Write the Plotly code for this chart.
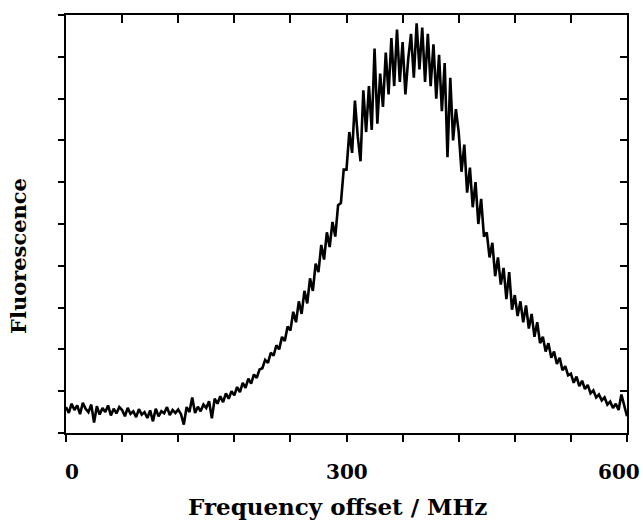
import plotly.graph_objects as go

# Frequency offset (MHz), sampled every 3 MHz
freq_mhz = list(range(0, 601, 3))

# Fluorescence (arbitrary units, axis 0-10)
fluorescence = [
    0.62, 0.48, 0.70, 0.55, 0.66, 0.45, 0.72, 0.58, 0.50, 0.68,
    0.25, 0.64, 0.44, 0.60, 0.50, 0.66, 0.42, 0.58, 0.47, 0.62,
    0.55, 0.40, 0.60, 0.46, 0.52, 0.38, 0.57, 0.44, 0.50, 0.36,
    0.54, 0.28, 0.58, 0.40, 0.52, 0.47, 0.62, 0.43, 0.55, 0.48,
    0.56, 0.45, 0.20, 0.62, 0.50, 0.85, 0.48, 0.63, 0.52, 0.68,
    0.60, 0.76, 0.35, 0.82, 0.70, 0.88, 0.74, 0.95, 0.82, 1.00,
    0.90, 1.10, 0.98, 1.20, 1.08, 1.30, 1.18, 1.40, 1.32, 1.52,
    1.55, 1.75, 1.68, 1.92, 1.85, 2.10, 2.00, 2.30, 2.20, 2.55,
    2.45, 2.90, 2.65, 3.15, 2.85, 3.40, 3.10, 3.70, 3.40, 4.05,
    3.85, 4.50, 4.15, 4.80, 4.45, 5.05, 4.70, 5.45, 5.50, 6.30,
    6.30, 7.20, 6.70, 7.95, 7.10, 6.50, 8.20, 7.20, 8.30, 7.25,
    9.20, 7.40, 8.60, 7.80, 9.10, 8.10, 9.45, 8.30, 9.65, 8.40,
    9.35, 8.10, 8.95, 9.55, 8.50, 9.80, 8.70, 9.70, 8.40, 9.55,
    8.30, 9.30, 8.00, 9.05, 7.70, 8.85, 6.60, 8.50, 7.00, 7.75,
    7.20, 6.25, 6.90, 5.75, 6.35, 5.40, 6.00, 5.00, 5.60, 4.70,
    4.80, 4.20, 4.55, 3.75, 4.20, 3.55, 3.95, 3.20, 3.85, 2.95,
    3.30, 2.80, 3.15, 2.65, 3.05, 2.50, 2.85, 2.30, 2.65, 2.15,
    2.30, 1.95, 2.15, 1.80, 1.95, 1.65, 1.80, 1.50, 1.60, 1.38,
    1.42, 1.20, 1.35, 1.12, 1.25, 1.05, 1.15, 0.95, 1.02, 0.85,
    0.92, 0.78, 0.85, 0.68, 0.75, 0.60, 0.70, 0.55, 0.92, 0.62,
    0.40,
]

x_ticks = list(range(0, 601, 60))
x_labels = ["0", "300", "600"]
x_label_pos = [0, 300, 600]
y_ticks = list(range(0, 11))

x_title = "Frequency offset / MHz"
y_title = "Fluorescence"

FONT = "DejaVu Serif"

fig = go.Figure()
fig.add_trace(go.Scatter(
    x=freq_mhz, y=fluorescence, mode="lines",
    line=dict(color="black", width=2.6), showlegend=False, hoverinfo="skip",
))
# invisible trace so the mirrored (inward-ticked) top/right axes are drawn
fig.add_trace(go.Scatter(
    x=[0, 600], y=[0, 10], xaxis="x2", yaxis="y2", mode="markers",
    marker=dict(opacity=0), showlegend=False, hoverinfo="skip",
))

axis_common = dict(showgrid=False, zeroline=False, tickcolor="black",
                   linecolor="black")

fig.update_layout(
    width=643, height=524,
    margin=dict(l=66, r=16, t=15, b=91),
    paper_bgcolor="white", plot_bgcolor="white",
    xaxis=dict(range=[0, 600], tickvals=x_ticks, ticks="outside", ticklen=7,
               tickwidth=1.5, showticklabels=False, showline=True,
               linewidth=2, mirror=True, **axis_common),
    yaxis=dict(range=[0, 10], tickvals=y_ticks, ticks="outside", ticklen=6,
               tickwidth=1.5, showticklabels=False, showline=True,
               linewidth=2, mirror=True, **axis_common),
    xaxis2=dict(range=[0, 600], tickvals=x_ticks, ticks="inside", ticklen=8,
                tickwidth=1.5, showticklabels=False, showline=False,
                overlaying="x", side="top", anchor="y2", **axis_common),
    yaxis2=dict(range=[0, 10], tickvals=y_ticks, ticks="inside", ticklen=7,
                tickwidth=1.5, showticklabels=False, showline=False,
                overlaying="y", side="right", anchor="x2", **axis_common),
)

annotations = []
shifts = {0: ("left", -3), 300: ("center", 0), 600: ("right", 15)}
for lab, pos in zip(x_labels, x_label_pos):
    anchor, dx = shifts[pos]
    annotations.append(dict(
        x=pos, y=-0.093, xref="x", yref="paper", text="<b>%s</b>" % lab,
        showarrow=False, xanchor=anchor, yanchor="middle", xshift=dx,
        font=dict(family=FONT, size=20, color="black"),
    ))
annotations.append(dict(
    x=(337 - 66) / 561, y=-0.177, xref="paper", yref="paper",
    text="<b>%s</b>" % x_title, showarrow=False, xanchor="center",
    yanchor="middle", font=dict(family=FONT, size=23, color="black"),
))
annotations.append(dict(
    x=(19 - 66) / 561, y=(433 - 256) / 418, xref="paper", yref="paper",
    text="<b>%s</b>" % y_title, showarrow=False, textangle=-90,
    xanchor="center", yanchor="middle",
    font=dict(family=FONT, size=21, color="black"),
))
fig.update_layout(annotations=annotations)

# remove the browser's default 8px body margin so the figure sits at (0, 0)
fig.write_html("out.html", config={"displayModeBar": False},
               post_script="document.body.style.margin='0';")
